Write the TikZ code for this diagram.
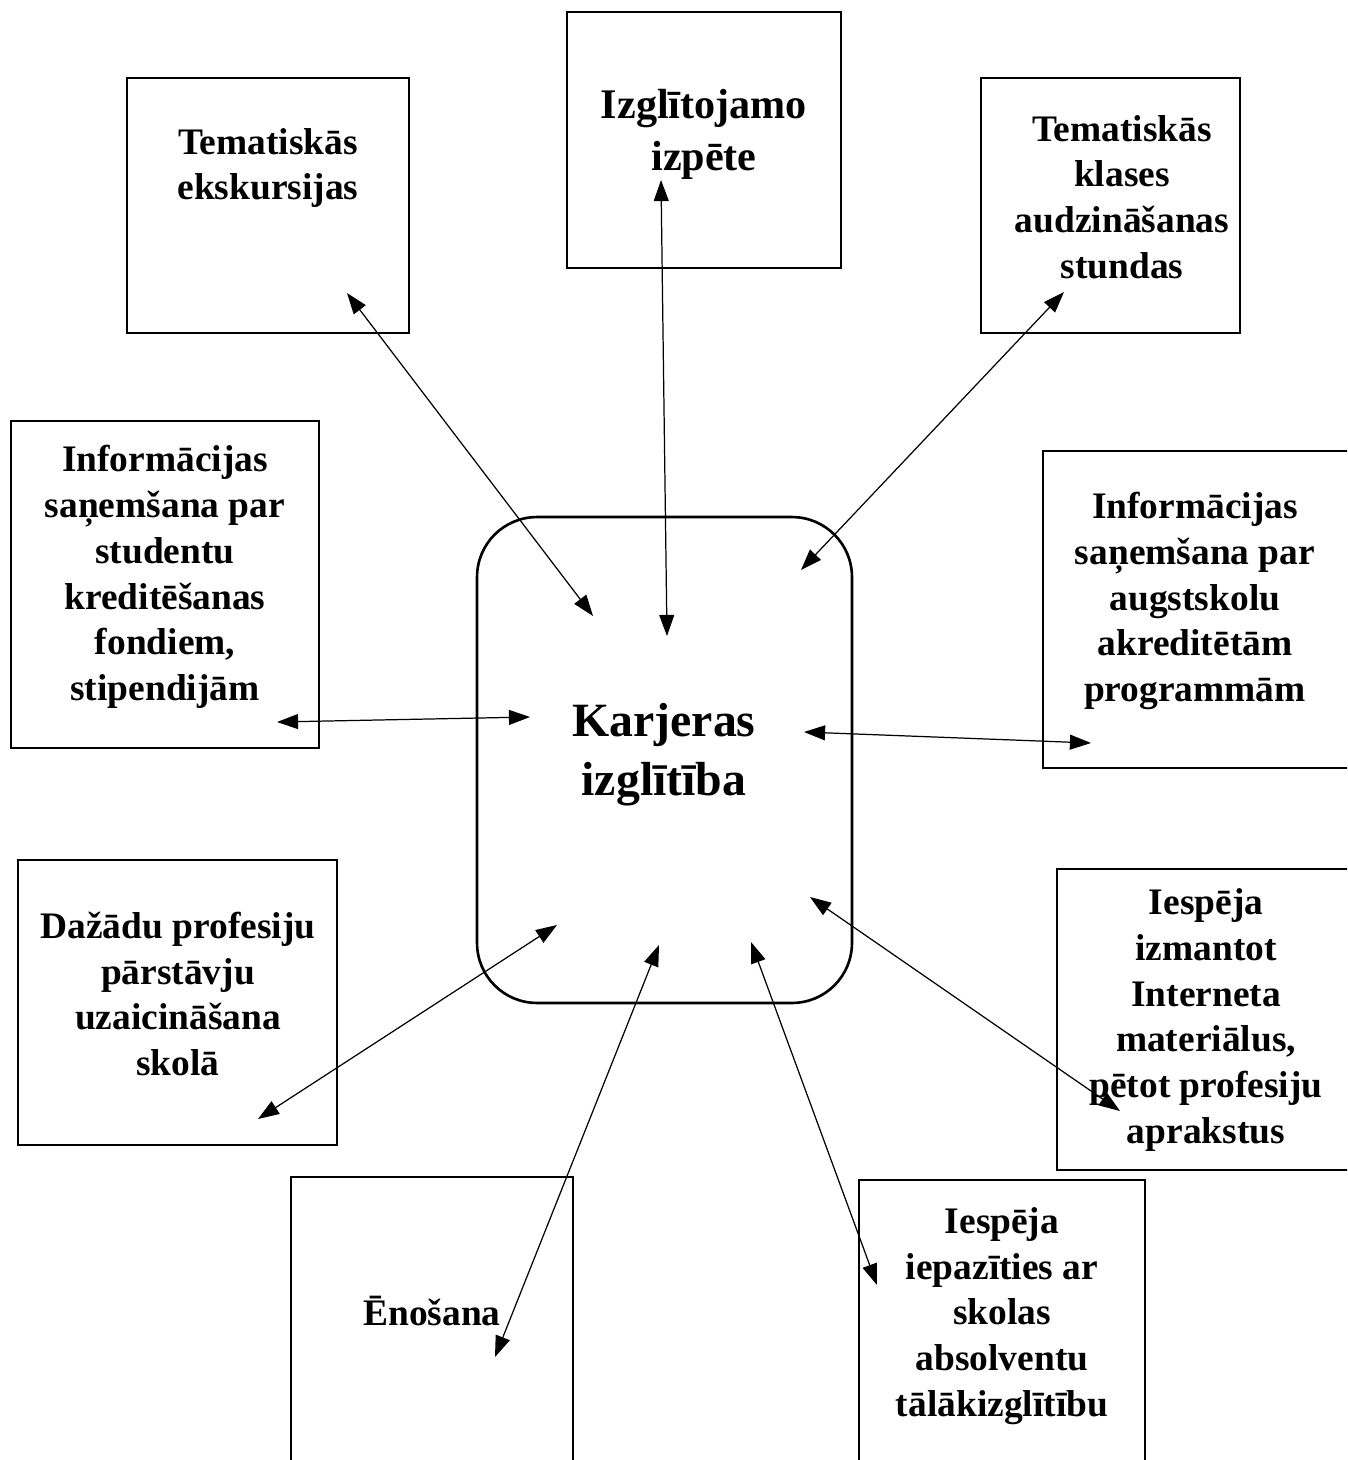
\documentclass[tikz,border=0pt]{standalone}
\usepackage{fontspec}
\setmainfont{Liberation Serif}
\usetikzlibrary{arrows.meta}
\begin{document}
\begin{tikzpicture}[
	x=0.02cm, y=-0.02cm,
	box/.style={ rectangle, draw, line width=1.5pt, inner sep=0pt, outer sep=0pt },
	hub/.style={ box, rounded corners=1.2cm, minimum width=7.5cm, minimum height=9.72cm },
	txt/.style={ align=center, inner sep=0pt, font=\fontsize{21.3}{26}\selectfont\bfseries },
	link/.style={ {Triangle[length=12pt,width=8.5pt]}-{Triangle[length=12pt,width=8.5pt]}, line width=0.7pt }
]
	\clip (0,0) rectangle (1347,1460);
	% boxes
	\node at (664.5,760) (k) [hub] {};
	\node at (268,205.5) (ek) [box,minimum width=5.64cm,minimum height=5.1cm] {};
	\node at (704,140) (iz) [box,minimum width=5.48cm,minimum height=5.12cm] {};
	\node at (1110.5,205.5) (st) [box,minimum width=5.18cm,minimum height=5.1cm] {};
	\node at (165,584.5) (sp) [box,minimum width=6.16cm,minimum height=6.54cm] {};
	\node at (1206.5,609.5) (pr) [box,minimum width=6.54cm,minimum height=6.34cm] {};
	\node at (177.5,1002.5) (sk) [box,minimum width=6.38cm,minimum height=5.7cm] {};
	\node at (1213.5,1019.5) (ap) [box,minimum width=6.26cm,minimum height=6.02cm] {};
	\node at (432,1328.5) (en) [box,minimum width=5.64cm,minimum height=6.06cm] {};
	\node at (1002,1330) (ta) [box,minimum width=5.72cm,minimum height=6.0cm] {};
	% texts
	\node at (664,755) (k-t) [txt,font=\fontsize{27.2}{33.5}\selectfont\bfseries] {Karjeras\\izglītība};
	\node at (268,168) (ek-t) [txt] {Tematiskās\\ekskursijas};
	\node at (704,134) (iz-t) [txt,font=\fontsize{24}{29.5}\selectfont\bfseries] {Izglītojamo\\izpēte};
	\node at (1122,197) (st-t) [txt] {Tematiskās\\klases\\audzināšanas\\stundas};
	\node at (165,577) (sp-t) [txt] {Informācijas\\saņemšana par\\studentu\\kreditēšanas\\fondiem,\\stipendijām};
	\node at (1195,601) (pr-t) [txt] {Informācijas\\saņemšana par\\augstskolu\\akreditētām\\programmām};
	\node at (178,994) (sk-t) [txt] {Dažādu profesiju\\pārstāvju\\uzaicināšana\\skolā};
	\node at (1206,1020) (ap-t) [txt] {Iespēja\\izmantot\\Interneta\\materiālus,\\pētot profesiju\\aprakstus};
	\node at (432,1311) (en-t) [txt] {Ēnošana};
	\node at (1002,1316) (ta-t) [txt] {Iespēja\\iepazīties ar\\skolas\\absolventu\\tālākizglītību};
	% arrow ends
	\coordinate (c1) at (593,616);
	\coordinate (o1) at (347,293);
	\coordinate (c2) at (667,636);
	\coordinate (o2) at (661,180);
	\coordinate (c3) at (801,570);
	\coordinate (o3) at (1064,292);
	\coordinate (c4) at (530,717);
	\coordinate (o4) at (277,722);
	\coordinate (c5) at (804,732);
	\coordinate (o5) at (1091,743);
	\coordinate (c6) at (557,925);
	\coordinate (o6) at (258,1119);
	\coordinate (c7) at (659,945);
	\coordinate (o7) at (495,1357);
	\coordinate (c8) at (751,942);
	\coordinate (o8) at (877,1285);
	\coordinate (c9) at (810,897);
	\coordinate (o9) at (1120,1111);
	\foreach \i in {1,...,9}
		\draw[link] (o\i) -- (c\i);
\end{tikzpicture}
\end{document}
